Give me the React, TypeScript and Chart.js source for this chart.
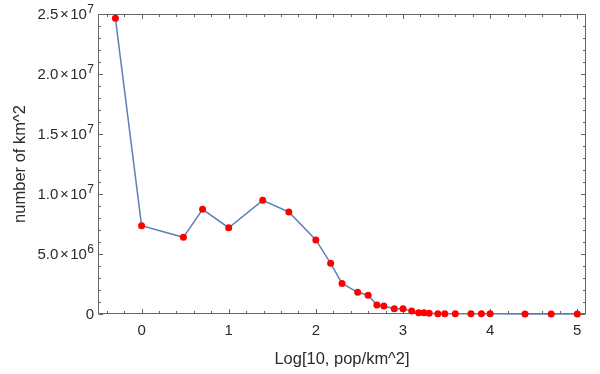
import React, { useEffect, useRef } from "react";
import { Chart, registerables } from "chart.js";

Chart.register(...registerables);

// Data
const logDensity = [
  -0.3, 0, 0.48, 0.7, 1, 1.39, 1.69, 2, 2.17, 2.3, 2.48, 2.6, 2.7, 2.78, 2.9, 3,
  3.1, 3.18, 3.24, 3.3, 3.4, 3.48, 3.6, 3.78, 3.9, 4, 4.4, 4.7, 5,
];
const areaKm2 = [
  2.464e7, 7.36e6, 6.39e6, 8.72e6, 7.19e6, 9.47e6, 8.5e6, 6.17e6, 4.22e6, 2.55e6,
  1.81e6, 1.56e6, 7.5e5, 6.7e5, 4.4e5, 4.4e5, 2.5e5, 1.1e5, 1.1e5, 6e4, 3e4, 3e4,
  2e4, 2e4, 1.5e4, 1.5e4, 1e4, 5e3, 2e3,
];

const xTickValues = [0, 1, 2, 3, 4, 5];
const xTickLabels = ["0", "1", "2", "3", "4", "5"];
const yTickValues = [0, 5e6, 1e7, 1.5e7, 2e7, 2.5e7];
const yTickMantissa = ["0", "5.0", "1.0", "1.5", "2.0", "2.5"];
const yTickExponent = ["", "6", "7", "7", "7", "7"];

const xTitle = "Log[10, pop/km^2]";
const yTitle = "number of km^2";

const FONT_FAMILY = '"Liberation Sans", Arial, Helvetica, sans-serif';
const TEXT_COLOR = "#2b2b2b";
const FRAME_COLOR = "#666666";

const framePlugin = {
  id: "mmaFrame",
  beforeDatasetsDraw(chart: any) {
    const { ctx, chartArea: a, scales } = chart;
    const xs = scales.x;
    const ys = scales.y;
    const L = Math.round(a.left) + 0.5;
    const R = Math.round(a.right) - 0.5;
    const T = Math.round(a.top) + 0.5;
    const B = Math.round(a.bottom) - 0.5;
    ctx.save();
    ctx.strokeStyle = FRAME_COLOR;
    ctx.lineWidth = 1;
    ctx.beginPath();
    ctx.moveTo(L, T);
    ctx.lineTo(R, T);
    ctx.lineTo(R, B);
    ctx.lineTo(L, B);
    ctx.closePath();
    ctx.stroke();

    // x ticks (major every 1, minor every 0.2)
    ctx.beginPath();
    for (let i = -4; i <= 50; i++) {
      const v = i / 10;
      if (i % 2 !== 0) continue;
      if (v < xs.min || v > xs.max) continue;
      const major = i % 10 === 0;
      const len = major ? 4.5 : 2.5;
      const px = Math.round(xs.getPixelForValue(v)) + 0.5;
      ctx.moveTo(px, B);
      ctx.lineTo(px, B - len);
      ctx.moveTo(px, T);
      ctx.lineTo(px, T + len);
    }
    // y ticks (major every 5e6, minor every 1e6)
    for (let i = 0; i <= 25; i++) {
      const v = i * 1e6;
      const major = i % 5 === 0;
      const len = major ? 4.5 : 2.5;
      const py = Math.round(ys.getPixelForValue(v)) + 0.5;
      ctx.moveTo(L, py);
      ctx.lineTo(L + len, py);
      ctx.moveTo(R, py);
      ctx.lineTo(R - len, py);
    }
    ctx.stroke();

    // x tick labels
    ctx.fillStyle = TEXT_COLOR;
    ctx.font = `15px ${FONT_FAMILY}`;
    ctx.textAlign = "center";
    ctx.textBaseline = "alphabetic";
    xTickValues.forEach((v, i) => {
      ctx.fillText(xTickLabels[i], xs.getPixelForValue(v), a.bottom + 20.5);
    });

    // y tick labels with superscript exponents
    const xRight = a.left - 4;
    ctx.textAlign = "left";
    yTickValues.forEach((v, i) => {
      const py = ys.getPixelForValue(v);
      const base = py + 5.3;
      const m = yTickMantissa[i];
      const e = yTickExponent[i];
      ctx.font = `15px ${FONT_FAMILY}`;
      if (!e) {
        const w = ctx.measureText(m).width;
        ctx.fillText(m, xRight - w, base);
        return;
      }
      ctx.font = `12px ${FONT_FAMILY}`;
      const supW = ctx.measureText(e).width;
      ctx.font = `15px ${FONT_FAMILY}`;
      const gap = 1.5;
      const wm = ctx.measureText(m).width;
      const wx = ctx.measureText("\u00d7").width;
      const wt = ctx.measureText("10").width;
      const total = wm + gap + wx + gap + wt + 0.5 + supW;
      let x0 = xRight - total;
      ctx.fillText(m, x0, base);
      x0 += wm + gap;
      ctx.fillText("\u00d7", x0, base);
      x0 += wx + gap;
      ctx.fillText("10", x0, base);
      x0 += wt + 0.5;
      ctx.font = `12px ${FONT_FAMILY}`;
      ctx.fillText(e, x0, base - 6.3);
    });

    // axis titles
    ctx.font = `16.5px ${FONT_FAMILY}`;
    ctx.textAlign = "center";
    ctx.fillText(xTitle, (a.left + a.right) / 2, 363.5);
    ctx.save();
    ctx.translate(25, (a.top + a.bottom) / 2);
    ctx.rotate(-Math.PI / 2);
    ctx.fillText(yTitle, 0, 0);
    ctx.restore();

    ctx.restore();
  },
};

export default function App() {
  const canvasRef = useRef<HTMLCanvasElement | null>(null);

  useEffect(() => {
    const canvas = canvasRef.current;
    if (!canvas) return;
    const points = logDensity.map((x, i) => ({ x, y: areaKm2[i] }));
    const chart = new Chart(canvas, {
      type: "line",
      data: {
        datasets: [
          {
            data: points,
            borderColor: "#5E81B5",
            borderWidth: 1.5,
            pointBackgroundColor: "#FF0000",
            pointBorderColor: "#FF0000",
            pointBorderWidth: 0,
            pointRadius: 3.5,
            fill: false,
            tension: 0,
            clip: false,
          } as any,
        ],
      },
      options: {
        animation: false,
        responsive: false,
        devicePixelRatio: 1,
        layout: { padding: { left: 98, right: 14, top: 14, bottom: 60 } },
        plugins: {
          legend: { display: false },
          tooltip: { enabled: false },
        },
        scales: {
          x: { type: "linear", min: -0.5, max: 5.1, display: false },
          y: { type: "linear", min: 0, max: 2.5e7, display: false },
        },
      },
      plugins: [framePlugin],
    });
    return () => chart.destroy();
  }, []);

  return (
    <div
      style={{
        position: "fixed",
        left: 0,
        top: 0,
        width: 600,
        height: 374,
        background: "#ffffff",
      }}
    >
      <canvas ref={canvasRef} width={600} height={374} />
    </div>
  );
}
